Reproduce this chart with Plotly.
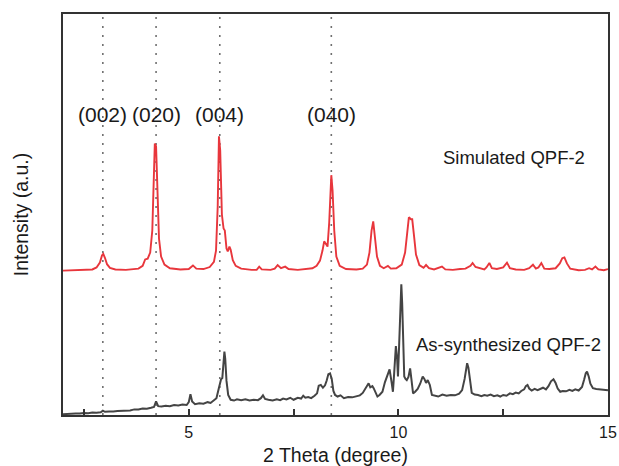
import plotly.graph_objects as go

# Simulated pattern: 2θ (deg) and intensity above its own baseline (a.u.)
theta_sim = [
    2.0, 2.5, 2.7, 2.8, 2.88, 2.93, 2.96, 3.0, 3.05, 3.12, 3.25, 3.5, 3.8, 3.9, 3.96,
    4.02, 4.08, 4.13, 4.17, 4.19, 4.22, 4.25, 4.29, 4.34, 4.42, 4.55, 4.8, 5.0, 5.1,
    5.18, 5.35, 5.5, 5.6, 5.65, 5.69, 5.72, 5.75, 5.79, 5.83, 5.86, 5.9, 5.93, 5.97,
    6.0, 6.05, 6.12, 6.25, 6.5, 6.62, 6.68, 6.74, 6.95, 7.05, 7.12, 7.2, 7.3, 7.38,
    7.6, 7.8, 7.95, 8.05, 8.13, 8.19, 8.23, 8.28, 8.31, 8.35, 8.38, 8.4, 8.43, 8.47,
    8.52, 8.6, 8.75, 9.0, 9.15, 9.25, 9.31, 9.36, 9.4, 9.44, 9.49, 9.56, 9.65, 9.75,
    9.82, 9.95, 10.08, 10.16, 10.21, 10.25, 10.3, 10.33, 10.37, 10.42, 10.5, 10.6,
    10.66, 10.73, 10.85, 11.04, 11.12, 11.3, 11.47, 11.6, 11.72, 11.77, 11.84, 11.95,
    12.05, 12.1, 12.17, 12.23, 12.35, 12.5, 12.59, 12.66, 12.8, 13.0, 13.12, 13.21,
    13.28, 13.34, 13.41, 13.48, 13.6, 13.75, 13.85, 13.91, 13.96, 14.02, 14.1, 14.3,
    14.45, 14.55, 14.62, 14.7, 14.77, 14.9, 15.0,
]
int_sim = [
    0.0, 0.1, 0.3, 0.8, 2.0, 3.8, 4.2, 3.2, 1.6, 0.7, 0.3, 0.2, 0.5, 1.2, 2.8,
    3.0, 4.5, 10.0, 24.0, 31.7, 31.0, 20.0, 8.0, 3.5, 1.5, 0.6, 0.3, 0.4, 1.3,
    0.5, 0.4, 0.9, 2.2, 5.0, 16.0, 33.5, 30.0, 14.0, 10.5, 10.0, 5.5, 4.8, 6.0,
    5.2, 2.6, 1.2, 0.5, 0.2, 0.2, 1.0, 0.3, 0.2, 0.5, 1.4, 0.6, 1.0, 0.4,
    0.2, 0.4, 0.6, 1.2, 2.5, 5.0, 7.3, 6.5, 6.0, 12.0, 20.0, 23.8, 20.0, 10.0,
    3.5, 1.2, 0.4, 0.3, 0.5, 1.5, 4.5, 10.0, 12.3, 9.0, 3.5, 1.2, 0.6, 1.2,
    0.5, 0.6, 1.5, 4.5, 10.0, 13.3, 12.8, 12.8, 9.0, 4.0, 1.4, 0.7,
    1.4, 0.6, 0.3, 1.0, 0.3, 0.2, 0.4, 0.5, 1.2, 1.9, 0.9, 0.6,
    0.3, 0.8, 1.9, 0.6, 0.4, 0.8, 2.0, 0.6, 0.3, 0.2, 0.6, 1.5,
    0.5, 0.8, 1.9, 0.5, 0.4, 0.6, 1.8, 3.1, 3.3, 1.8, 0.5, 0.1,
    0.2, 0.6, 0.3, 1.0, 0.3, 0.1, 0.4,
]

# Measured pattern of the as-synthesized sample (a.u.)
theta_exp = [
    2.0, 2.1, 2.2, 2.3, 2.4, 2.5, 2.6, 2.7, 2.8, 2.9, 2.95, 3.0, 3.1, 3.2, 3.3, 3.4,
    3.5, 3.6, 3.7, 3.8, 3.9, 4.0, 4.1, 4.17, 4.22, 4.27, 4.35, 4.45, 4.55, 4.65,
    4.75, 4.85, 4.95, 5.0, 5.04, 5.08, 5.15, 5.25, 5.35, 5.45, 5.52, 5.6, 5.66,
    5.72, 5.77, 5.8, 5.83, 5.85, 5.87, 5.9, 5.94, 6.0, 6.08, 6.15, 6.25, 6.35,
    6.45, 6.55, 6.65, 6.72, 6.77, 6.82, 6.9, 7.0, 7.1, 7.18, 7.25, 7.33, 7.42,
    7.5, 7.6, 7.68, 7.73, 7.78, 7.85, 7.92, 8.0, 8.06, 8.1, 8.15, 8.2, 8.25,
    8.29, 8.33, 8.37, 8.41, 8.45, 8.49, 8.55, 8.62, 8.7, 8.8, 8.9, 9.0, 9.08,
    9.15, 9.22, 9.29, 9.33, 9.38, 9.41, 9.46, 9.5, 9.55, 9.62, 9.68, 9.74, 9.79,
    9.84, 9.87, 9.9, 9.94, 9.97, 9.99, 10.02, 10.05, 10.07, 10.09, 10.12, 10.14,
    10.17, 10.2, 10.24, 10.28, 10.31, 10.35, 10.4, 10.46, 10.52, 10.58, 10.62,
    10.66, 10.7, 10.75, 10.8, 10.87, 10.95, 11.05, 11.15, 11.25, 11.35, 11.45,
    11.52, 11.58, 11.62, 11.64, 11.67, 11.71, 11.75, 11.82, 11.9, 11.98, 12.05,
    12.12, 12.2, 12.28, 12.36, 12.43, 12.5, 12.58, 12.66, 12.73, 12.8, 12.87,
    12.93, 13.0, 13.04, 13.08, 13.12, 13.18, 13.25, 13.32, 13.38, 13.45, 13.52,
    13.58, 13.64, 13.7, 13.75, 13.8, 13.86, 13.92, 14.0, 14.08, 14.15, 14.22,
    14.3, 14.38, 14.43, 14.47, 14.5, 14.54, 14.58, 14.64, 14.72, 14.8, 14.88,
    14.95, 15.0,
]
int_exp = [
    0.2, 0.3, 0.25, 0.4, 0.35, 0.5, 0.45, 0.6, 0.55, 0.7, 1.1, 0.8, 0.9, 0.85, 1.0, 1.05,
    1.2, 1.15, 1.4, 1.35, 1.6, 1.55, 1.8, 2.0, 3.4, 2.2, 2.1, 2.3, 2.2, 2.5,
    2.4, 2.6, 2.5, 3.2, 5.2, 3.4, 2.7, 2.9, 2.8, 3.2, 3.0, 3.6, 4.2,
    6.8, 8.9, 9.2, 14.0, 15.8, 14.0, 8.5, 5.0, 3.8, 3.6, 3.9, 3.7, 3.9,
    3.6, 3.8, 3.7, 4.2, 4.9, 4.0, 3.8, 3.6, 3.9, 3.7, 4.1, 3.9, 4.3,
    3.8, 4.3, 4.1, 4.8, 4.3, 4.5, 4.2, 4.8, 5.4, 7.3, 7.5, 6.8, 7.4,
    8.6, 10.2, 10.4, 9.0, 6.0, 5.0, 4.6, 4.9, 4.2, 4.5, 4.4, 4.6, 4.9,
    5.5, 6.6, 7.9, 6.9, 7.2, 6.7, 5.6, 4.6, 5.0, 5.8, 8.2, 10.2, 11.4,
    8.0, 5.8, 10.5, 17.2, 14.0, 9.6, 18.0, 29.0, 32.6, 28.0, 17.0, 9.6,
    9.0, 8.7, 9.5, 11.6, 9.0, 5.4, 5.8, 6.5, 7.8, 9.6, 9.0,
    8.0, 8.7, 7.5, 5.0, 4.8, 4.6, 5.1, 4.8, 5.0, 4.9, 5.3,
    6.2, 9.0, 12.2, 12.9, 11.8, 8.0, 5.5, 5.1, 5.0, 4.7, 5.0,
    4.8, 5.1, 4.7, 4.9, 4.6, 5.0, 4.8, 5.4, 5.2, 5.6, 5.4,
    6.0, 6.4, 7.2, 7.5, 6.6, 6.1, 6.5, 6.2, 6.4, 6.8, 6.4,
    7.2, 8.4, 8.9, 8.0, 6.6, 5.8, 6.0, 5.9, 6.3, 6.0, 6.4,
    6.1, 7.0, 8.8, 10.4, 10.8, 9.6, 7.8, 6.7, 6.5, 6.4, 6.2,
    6.3, 6.2,
]

# Reflection positions (2θ, deg) and their Miller indices
hkl_theta = [2.95, 4.22, 5.74, 8.40]
hkl_labels = ["(002)", "(020)", "(004)", "(040)"]

# Tick positions on the 2θ axis
tick_vals = [2.5, 5, 7.5, 10, 12.5, 15]
tick_text = ["", "5", "", "10", "", "15"]

SIM_OFFSET = 36.0
FONT = "Liberation Sans, Arial, sans-serif"
TXT = "#1a1a1a"

fig = go.Figure()
fig.add_trace(go.Scatter(
    x=theta_exp, y=int_exp, mode="lines",
    line=dict(color="#444444", width=2.0), showlegend=False,
))
fig.add_trace(go.Scatter(
    x=theta_sim, y=[v + SIM_OFFSET for v in int_sim], mode="lines",
    line=dict(color="#e8363c", width=1.9), showlegend=False,
))

for th, lab in zip(hkl_theta, hkl_labels):
    fig.add_shape(type="line", xref="x", yref="paper", x0=th, x1=th, y0=0, y1=1,
                  line=dict(color="#707070", width=1.6, dash="2px,7px"), layer="below")
    fig.add_annotation(x=th, y=75.0, xref="x", yref="y", text=lab, showarrow=False,
                       font=dict(family=FONT, size=21, color=TXT))

fig.add_annotation(x=12.76, y=64.3, xref="x", yref="y", text="Simulated QPF-2",
                   showarrow=False, font=dict(family=FONT, size=18.5, color=TXT))
fig.add_annotation(x=12.62, y=17.5, xref="x", yref="y", text="As-synthesized QPF-2",
                   showarrow=False, font=dict(family=FONT, size=18.5, color=TXT))

fig.update_layout(
    width=619, height=466,
    margin=dict(l=63, r=11, t=14, b=51, autoexpand=False),
    paper_bgcolor="white", plot_bgcolor="white",
    font=dict(family=FONT, color=TXT),
    xaxis=dict(
        range=[2, 15], tickvals=tick_vals, ticktext=tick_text,
        ticks="inside", ticklen=6, tickwidth=1.5, tickcolor="#333333",
        showline=True, linecolor="#333333", linewidth=1.8, mirror=True,
        showgrid=False, zeroline=False, automargin=False,
        ticklabelstandoff=2,
        tickfont=dict(family=FONT, size=16, color=TXT),
        title=dict(text="2 Theta (degree)", font=dict(family=FONT, size=19.5, color=TXT),
                   standoff=8),
    ),
    yaxis=dict(
        range=[0, 100], showticklabels=False, ticks="",
        showline=True, linecolor="#333333", linewidth=1.8, mirror=True,
        showgrid=False, zeroline=False, automargin=False,
        title=dict(text="Intensity (a.u.)", font=dict(family=FONT, size=19.5, color=TXT),
                   standoff=27),
    ),
)

fig.write_html("out.html")
